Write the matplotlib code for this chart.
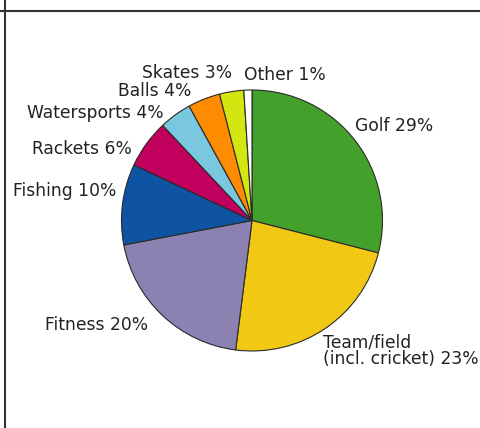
import matplotlib.pyplot as plt
from matplotlib.lines import Line2D

# sports goods spending share (%), clockwise from 12 o'clock
categories = ["Golf", "Team/field\n(incl. cricket)", "Fitness", "Fishing", "Rackets",
              "Watersports", "Balls", "Skates", "Other"]
shares = [29, 23, 20, 10, 6, 4, 4, 3, 1]
colors = ["#43a02b", "#f1c814", "#8b82b2", "#0f53a3", "#c0005c",
          "#7ac7e0", "#ff8c00", "#d4e60f", "#ffffff"]

# label anchor (left x, centre y) in pixels from the top-left corner
label_pos = [(355, 126), (323, 351), (45, 325), (13, 191), (32, 149),
             (27, 113), (118, 91), (142, 73), (244, 75)]

W, H = 481, 428
fig = plt.figure(figsize=(W / 100, H / 100), dpi=100)
ax = fig.add_axes([0, 0, 1, 1])
ax.set_xlim(0, W)
ax.set_ylim(0, H)
ax.set_aspect("equal")
ax.axis("off")

cx, cy, r = 252, H - 220.5, 130.5
ax.pie(shares, colors=colors, startangle=90, counterclock=False,
       center=(cx, cy), radius=r, frame=True,
       wedgeprops=dict(edgecolor="#2a2a2a", linewidth=0.8))
ax.set_xlim(0, W)
ax.set_ylim(0, H)
ax.axis("off")

for name, val, (x, y) in zip(categories, shares, label_pos):
    ax.text(x, H - y, f"{name} {val}%", ha="left", va="center",
            fontsize=12.3, color="#222222", linespacing=0.92,
            family="DejaVu Sans")

# page rules
fig.add_artist(Line2D([0, 1], [1 - 11 / H, 1 - 11 / H], color="#333333", lw=1.5))
fig.add_artist(Line2D([5 / W, 5 / W], [0, 1], color="#333333", lw=1.5))

fig.savefig("out.png", dpi=100)
